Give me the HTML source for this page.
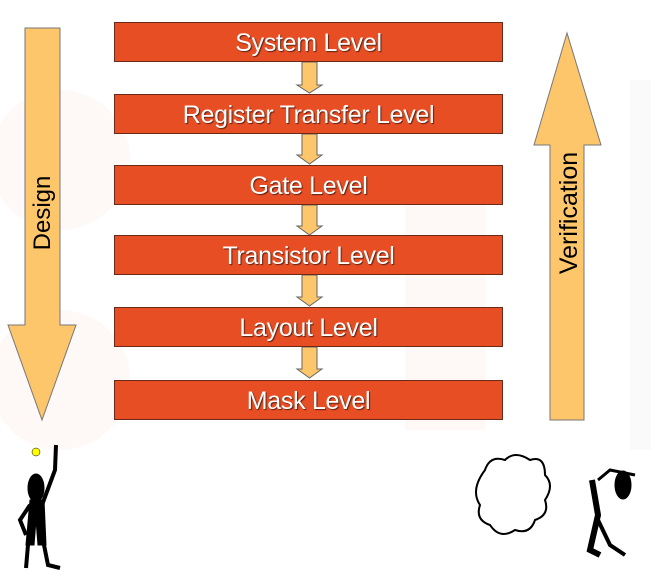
<!DOCTYPE html>
<html><head><style>
body{margin:0;width:651px;height:574px;background:#fff;overflow:hidden;position:relative;font-family:"Liberation Sans",sans-serif}
.b{position:absolute;left:114px;width:387px;height:38px;background:#e84e24;border:1px solid #6a2a18;color:#fff;font-size:25px;text-align:center;line-height:40px;text-shadow:1px 1px 1px #5a2010;letter-spacing:-0.3px}
svg{position:absolute;left:0;top:0}
</style></head><body>
<svg width="651" height="574">
<g fill="#fef9f7"><circle cx="60" cy="160" r="70"/><circle cx="60" cy="380" r="70"/><rect x="405" y="185" width="80" height="245"/><rect x="630" y="80" width="21" height="370" fill="#fafafa"/></g>
<polygon points="25,28 60,28 60,325 76,325 42,420 8,325 25,325" fill="#fdc66a" stroke="#777"/>
<polygon points="550,420 584,420 584,145 601,145 567,33 534,145 550,145" fill="#fdc66a" stroke="#777"/>
<text transform="translate(50,213) rotate(-90)" text-anchor="middle" font-size="24" font-family="Liberation Sans">Design</text>
<text transform="translate(577,213) rotate(-90)" text-anchor="middle" font-size="25" font-family="Liberation Sans">Verification</text>
<g fill="#fdc66a" stroke="#666">
<polygon points="302,62 317,62 317,85 322,85 309.5,93 297,85 302,85"/>
<polygon points="302,134 317,134 317,155 322,155 309.5,164 297,155 302,155"/>
<polygon points="302,205 317,205 317,226 322,226 309.5,235 297,226 302,226"/>
<polygon points="302,275 317,275 317,297 322,297 309.5,306 297,297 302,297"/>
<polygon points="302,347 317,347 317,369 322,369 309.5,378 297,369 302,369"/>
</g>
<g fill="#000" stroke="#000">
<ellipse cx="36" cy="488" rx="8" ry="14"/>
<path d="M30 500 L44 500 L46 545 L38 545 L36 520 L34 545 L26 545 Z"/>
<path d="M42 505 L55 470 L56 445" stroke-width="4" fill="none"/>
<path d="M30 505 L20 520 L26 535" stroke-width="4" fill="none"/>
<path d="M28 545 L26 568 M44 545 L48 565 L60 568" stroke-width="4" fill="none"/>
<ellipse cx="623" cy="485" rx="8" ry="14"/>
<path d="M592 480 L598 515 L590 550 L600 555" stroke-width="6" fill="none"/>
<path d="M598 520 L610 545 L625 555" stroke-width="4" fill="none"/>
<path d="M598 480 L610 470 L635 475" stroke-width="3" fill="none"/>
</g>
<circle cx="36" cy="452" r="4" fill="#ff0" stroke="#000" stroke-width="0.5"/>
<path d="M485 470 q5-15 20-10 q10-10 25 0 q15-5 15 15 q10 10 0 25 q5 15-10 20 q-5 15-20 10 q-15 10-25-5 q-15-5-10-20 q-10-15 5-35z" fill="none" stroke="#000" stroke-width="2"/>
</svg>
<div class="b" style="top:22px">System Level</div>
<div class="b" style="top:94px">Register Transfer Level</div>
<div class="b" style="top:165px">Gate Level</div>
<div class="b" style="top:235px">Transistor Level</div>
<div class="b" style="top:307px">Layout Level</div>
<div class="b" style="top:380px">Mask Level</div>
</body></html>
